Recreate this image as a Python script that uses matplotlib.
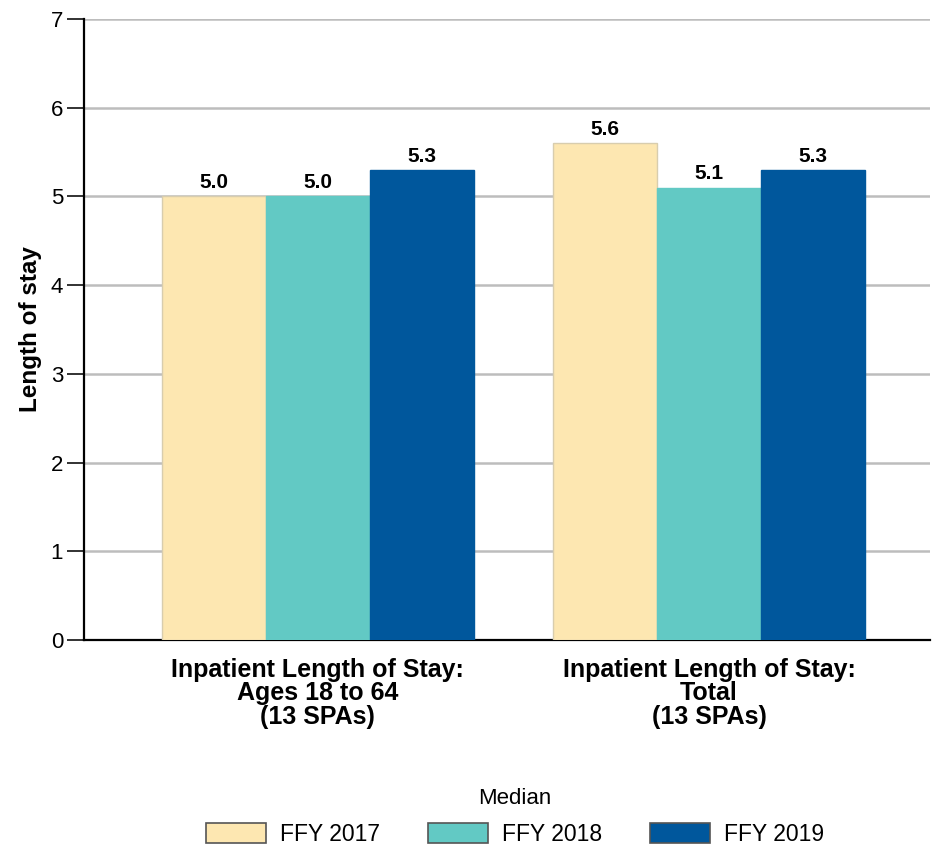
import matplotlib
matplotlib.use("Agg")
import matplotlib.pyplot as plt
import numpy as np

plt.rcParams['font.family'] = ['Liberation Sans', 'DejaVu Sans']

categories = ["Inpatient Length of Stay:\nAges 18 to 64\n(13 SPAs)",
              "Inpatient Length of Stay:\nTotal\n(13 SPAs)"]
series_names = ["FFY 2017", "FFY 2018", "FFY 2019"]
fy2017 = [5.0, 5.6]
fy2018 = [5.0, 5.1]
fy2019 = [5.3, 5.3]
values = [fy2017, fy2018, fy2019]
colors = ["#FDE7B1", "#62C9C4", "#00579C"]
edges = ["#D8CDAE", "#62C9C4", "#00579C"]
yticks = [0, 1, 2, 3, 4, 5, 6, 7]

fig = plt.figure(figsize=(9.32, 8.49), dpi=100)
ax = fig.add_axes([84/932, 1-640/849, 846/932, 621/849])

x = np.arange(len(categories))
w = 0.266
bars = []
for i, (name, vals) in enumerate(zip(series_names, values)):
    b = ax.bar(x + (i-1)*w, vals, w, color=colors[i], edgecolor=edges[i], linewidth=1,
               label=name, zorder=3)
    bars.append(b)
    for xi, v in zip(x + (i-1)*w, vals):
        ax.annotate(f"{v:.1f}", (xi, v), xytext=(0, 3), textcoords="offset points",
                    ha="center", va="bottom", fontsize=15, fontweight="bold", zorder=4)

ax.set_xlim(-0.598, 1.565)
ax.set_ylim(0, 7)
ax.set_yticks(yticks)
ax.set_yticklabels([str(t) for t in yticks], fontsize=16)
ax.yaxis.grid(True, color="#BDBDBD", linewidth=1.8, zorder=0)
ax.set_axisbelow(True)
ax.set_xticks(x)
ax.set_xticklabels(categories, fontsize=18, fontweight="bold", linespacing=0.97)
ax.tick_params(axis="x", length=0, pad=13)
ax.tick_params(axis="y", length=12, width=1.3, color="#222222", pad=3)
for s in ["top", "right"]:
    ax.spines[s].set_visible(False)
ax.spines["left"].set_linewidth(1.6)
ax.spines["bottom"].set_linewidth(1.6)
ax.set_ylabel("Length of stay", fontsize=17.5, fontweight="bold", labelpad=6)

leg = fig.legend(handles=bars, labels=series_names, loc="upper center", ncol=3,
                 bbox_to_anchor=(515/932, 1-788/849), frameon=False, fontsize=16.5,
                 title="Median", title_fontsize=16, handlelength=2.62, handleheight=0.95,
                 handletextpad=0.61, columnspacing=2.1, borderpad=0, borderaxespad=0)
leg._legend_box.sep = 10
for h in leg.legend_handles:
    h.set_edgecolor("#555555")
    h.set_linewidth(1.2)

fig.savefig("out.png", dpi=100)
